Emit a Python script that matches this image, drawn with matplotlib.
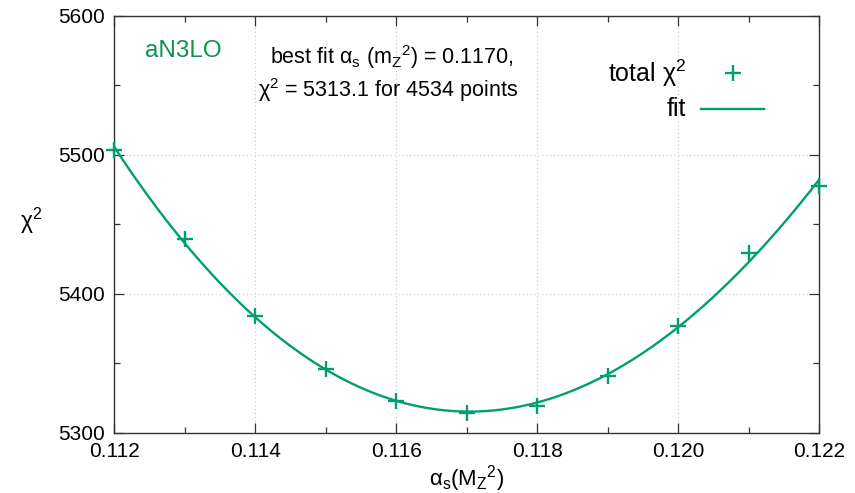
import numpy as np
import matplotlib
matplotlib.use("Agg")
import matplotlib.pyplot as plt
from matplotlib.ticker import MultipleLocator, FormatStrFormatter

plt.rcParams['font.family'] = ['Liberation Sans', 'DejaVu Sans']
plt.rcParams['mathtext.fontset'] = 'custom'
plt.rcParams['mathtext.rm'] = 'Liberation Sans'
plt.rcParams['mathtext.it'] = 'Liberation Sans'

# data
alpha_s = [0.112, 0.113, 0.114, 0.115, 0.116, 0.117, 0.118, 0.119, 0.120, 0.121, 0.122]
chi2 = [5503.0, 5439.0, 5384.0, 5346.0, 5322.5, 5313.8, 5319.3, 5340.5, 5376.5, 5429.5, 5477.5]
xticks = [0.112, 0.114, 0.116, 0.118, 0.120, 0.122]
yticks = [5300, 5400, 5500, 5600]

GREEN = '#009e73'
TEXTGREEN = '#10904e'
W, H = 855, 493

fig = plt.figure(figsize=(W / 100, H / 100), dpi=100)
ax = fig.add_axes([114.3 / W, 1 - 432.6 / H, (819 - 114.3) / W, (432.6 - 15.5) / H])

def px(x, y):
    return x / W, 1 - y / H

# fit curve (cubic polynomial fit through the points)
coef = np.polyfit(alpha_s, chi2, 3)
xs = np.linspace(min(alpha_s), max(alpha_s), 400)
ax.plot(xs, np.polyval(coef, xs), color=GREEN, lw=1.7, zorder=3, clip_on=False)
ax.plot(alpha_s, chi2, ls='none', marker='+', ms=11, mew=1.7, color=GREEN, zorder=4, clip_on=False)

ax.set_xlim(0.112, 0.122)
ax.set_ylim(5300, 5600)
ax.set_xticks(xticks)
ax.set_yticks(yticks)
ax.xaxis.set_major_formatter(FormatStrFormatter('%.3f'))
ax.xaxis.set_minor_locator(MultipleLocator(0.001))
ax.yaxis.set_minor_locator(MultipleLocator(50))
ax.tick_params(which='both', direction='in', top=True, right=True, color='#333333', width=0.9)
ax.tick_params(which='major', length=7, labelsize=15, pad=7)
ax.tick_params(which='minor', length=4)
for s in ax.spines.values():
    s.set_color('#333333')
    s.set_linewidth(1.0)
ax.grid(True, which='major', ls=(0, (1, 2.5)), color='#c8c8c8', lw=0.8)

ax.set_xlabel(r'$\mathrm{\alpha_s(M_Z{}^2)}$', fontsize=16, labelpad=1)
ax.set_ylabel(r'$\mathrm{\chi^2}$', fontsize=16.5, rotation=0, va='center', ha='center')
ax.yaxis.set_label_coords((31 - 114.3) / (819 - 114.3), (432.6 - 221) / (432.6 - 15.5))

fig.text(*px(145, 51), 'aN3LO', color=TEXTGREEN, fontsize=17.5, va='center', ha='left')
fig.text(*px(270, 57), r'best fit $\mathrm{\alpha_s}$ ($\mathrm{m_Z{}^2}$) = 0.1170,', fontsize=15.5, va='center', ha='left')
fig.text(*px(258, 90), r'$\mathrm{\chi^2}$ = 5313.1 for 4534 points', fontsize=15.5, va='center', ha='left')

# legend drawn manually (gnuplot style: right-aligned text, key to the right)
fig.text(*px(686, 73), r'total $\mathrm{\chi^2}$', fontsize=18, va='center', ha='right')
fig.text(*px(686, 109), 'fit', fontsize=18, va='center', ha='right')
lx, ly = px(733, 72.5)
fig.lines.append(plt.Line2D([lx], [ly], transform=fig.transFigure, marker='+', ms=11, mew=1.7, color=GREEN, ls='none'))
x1, y1 = px(701, 108.5)
x2, _ = px(764, 108.5)
fig.lines.append(plt.Line2D([x1, x2], [y1, y1], transform=fig.transFigure, color=GREEN, lw=1.7))

fig.savefig('out.png', dpi=100)
